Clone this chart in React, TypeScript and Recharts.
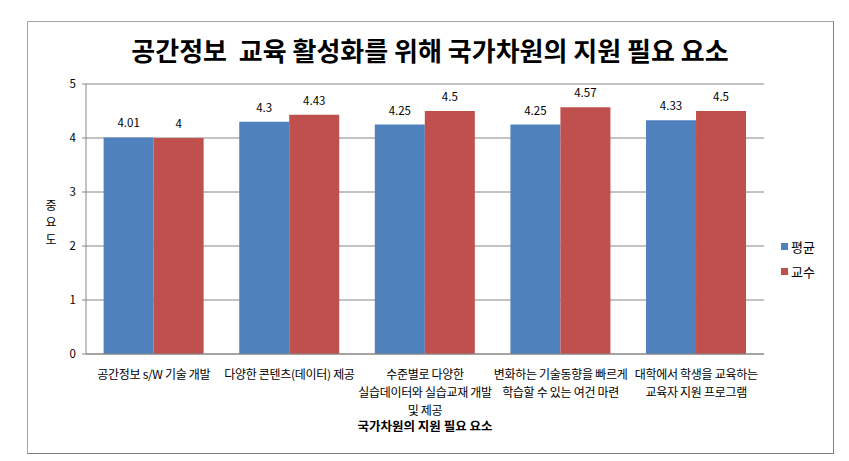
import React from 'react';
import { BarChart, Bar, XAxis, YAxis, CartesianGrid, LabelList } from 'recharts';

const categories: string[][] = [
  ['공간정보 s/W 기술 개발'],
  ['다양한 콘텐츠(데이터) 제공'],
  ['수준별로 다양한', '실습데이터와 실습교재 개발', '및 제공'],
  ['변화하는 기술동향을 빠르게', '학습할 수 있는 여건 마련'],
  ['대학에서 학생을 교육하는', '교육자 지원 프로그램'],
];
const avgValues = [4.01, 4.3, 4.25, 4.25, 4.33];
const profValues = [4, 4.43, 4.5, 4.57, 4.5];
const yTicks = [0, 1, 2, 3, 4, 5];
const seriesNames = ['평균', '교수'];
const yTitleChars = ['중', '요', '도'];

const FONT = '"Noto Sans CJK KR", "Noto Sans", sans-serif';
const BLUE = '#4F81BD';
const RED = '#C0504D';
const COLORS = [BLUE, RED];

const data = categories.map((c, i) => ({
  name: String(i),
  avg: avgValues[i],
  prof: profValues[i],
}));

function CategoryTick(props: any) {
  const { x, y, payload } = props;
  const lines = categories[Number(payload.value)] || [];
  return (
    <g transform={`translate(${x},${y})`}>
      {lines.map((line, i) => (
        <text
          key={i}
          x={0}
          y={11 + i * 18}
          textAnchor="middle"
          dominantBaseline="central"
          fontSize={12}
          fill="#000"
          fontFamily={FONT}
          letterSpacing={-0.3}
        >
          {line}
        </text>
      ))}
    </g>
  );
}

export default function App() {
  return (
    <div style={{ position: 'absolute', left: 0, top: 0, width: 849, height: 461, background: '#fff', fontFamily: FONT }}>
      <div
        style={{
          position: 'absolute',
          left: 27,
          top: 21,
          width: 805,
          height: 431,
          border: '1px solid #a6a6a6',
          borderRightColor: '#808080',
          borderBottomColor: '#808080',
        }}
      />
      <div
        style={{
          position: 'absolute',
          left: 0,
          top: 33,
          width: 860,
          textAlign: 'center',
          fontSize: 26,
          fontWeight: 'bold',
          lineHeight: '34px',
          whiteSpace: 'pre',
        }}
      >
        {'공간정보  교육 활성화를 위해 국가차원의 지원 필요 요소'}
      </div>
      {yTitleChars.map((ch, i) => (
        <div
          key={ch}
          style={{
            position: 'absolute',
            left: 43,
            top: 198 + i * 17,
            width: 16,
            fontSize: 12,
            lineHeight: '14px',
            textAlign: 'center',
          }}
        >
          {ch}
        </div>
      ))}
      <div
        style={{
          position: 'absolute',
          left: 86,
          top: 419,
          width: 678,
          textAlign: 'center',
          fontSize: 12.5,
          lineHeight: '14px',
          fontWeight: 'bold',
        }}
      >
        국가차원의 지원 필요 요소
      </div>
      <div style={{ position: 'absolute', left: 781, top: 234, fontSize: 13, color: '#000' }}>
        {seriesNames.map((n, i) => (
          <div key={n} style={{ display: 'flex', alignItems: 'center', height: 25 }}>
            <span style={{ width: 7, height: 7, background: COLORS[i], display: 'inline-block', marginRight: 3 }} />
            {n}
          </div>
        ))}
      </div>
      <BarChart
        width={849}
        height={461}
        data={data}
        margin={{ top: 84, right: 85, bottom: 47, left: 56 }}
        barCategoryGap="13%"
        barGap={0}
        style={{ position: 'absolute', left: 0, top: 0 }}
      >
        <CartesianGrid vertical={false} stroke="#868686" />
        <XAxis
          dataKey="name"
          height={60}
          tick={<CategoryTick />}
          tickLine={false}
          axisLine={{ stroke: '#868686' }}
          interval={0}
        />
        <YAxis
          width={30}
          domain={[0, 5]}
          ticks={yTicks}
          tickSize={4}
          tickLine={{ stroke: '#868686' }}
          axisLine={{ stroke: '#868686' }}
          tick={{ fontSize: 11.5, fill: '#000', fontFamily: FONT }}
          tickMargin={6}
        />
        <Bar dataKey="avg" name={seriesNames[0]} fill={BLUE} isAnimationActive={false}>
          <LabelList dataKey="avg" position="top" offset={10} fontSize={11.5} fill="#000" fontFamily={FONT} />
        </Bar>
        <Bar dataKey="prof" name={seriesNames[1]} fill={RED} isAnimationActive={false}>
          <LabelList dataKey="prof" position="top" offset={10} fontSize={11.5} fill="#000" fontFamily={FONT} />
        </Bar>
      </BarChart>
    </div>
  );
}
